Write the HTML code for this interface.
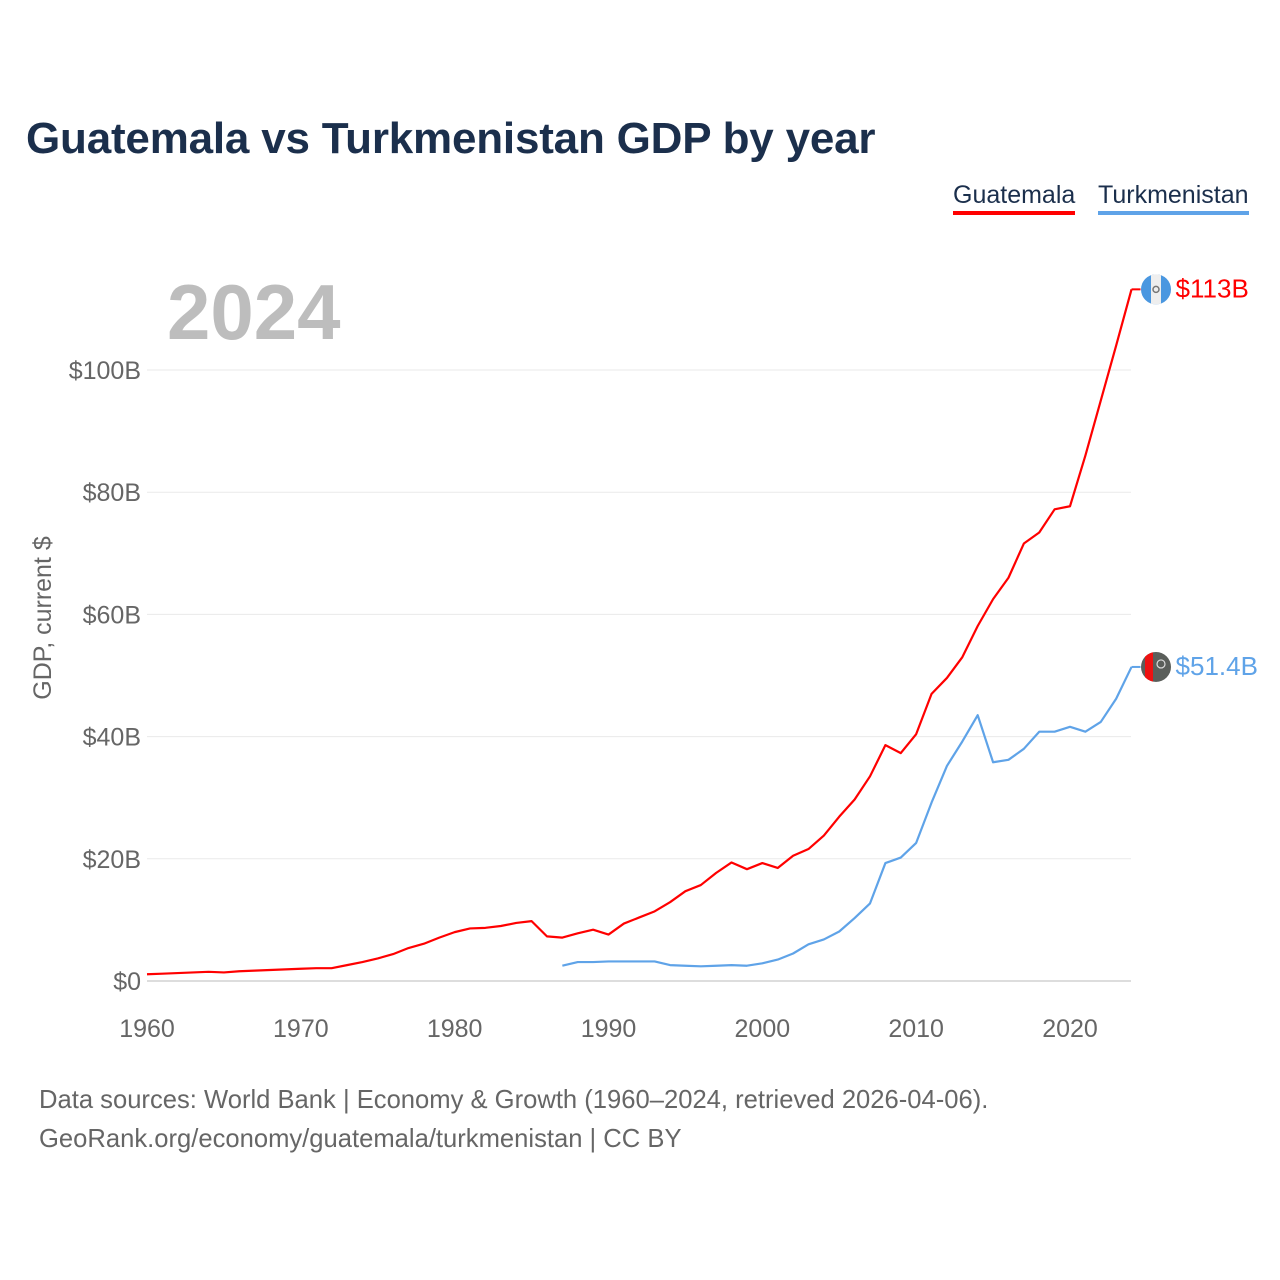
<!DOCTYPE html>
<html><head><meta charset="utf-8"><style>
body{margin:0;background:#fff;font-family:"Liberation Sans",sans-serif;}
#wrap{position:relative;width:1280px;height:1280px;overflow:hidden;}
.t{position:absolute;white-space:nowrap;}
</style></head><body>
<div id="wrap">
<div class="t" style="left:26px;top:114px;font-size:44px;font-weight:bold;color:#1b2f4c;letter-spacing:-0.2px;">Guatemala vs Turkmenistan GDP by year</div>
<div class="t" style="left:953px;top:181px;font-size:25px;color:#1b2f4c;border-bottom:4px solid #ff0000;padding-bottom:1px;">Guatemala</div>
<div class="t" style="left:1098px;top:181px;font-size:25px;color:#1b2f4c;border-bottom:4px solid #5fa3e8;padding-bottom:1px;">Turkmenistan</div>
<svg id="chart" width="1280" height="1280" style="position:absolute;left:0;top:0">
<defs>
<clipPath id="c1"><circle cx="1156" cy="289" r="15"/></clipPath>
<clipPath id="c2"><circle cx="1156" cy="666" r="15"/></clipPath>
</defs>
<text x="167" y="339" font-size="78" font-weight="bold" fill="#bdbdbd" font-family="Liberation Sans, sans-serif">2024</text>
<text transform="translate(51,618) rotate(-90)" text-anchor="middle" font-size="25" fill="#666" font-family="Liberation Sans, sans-serif">GDP, current $</text>
<g id="grid"></g><g id="lines"></g><g id="labels"></g>
</svg>
<div class="t" style="left:39px;top:1081px;font-size:25.6px;color:#666;line-height:39px;">Data sources: World Bank | Economy &amp; Growth (1960–2024, retrieved 2026-04-06).<br>GeoRank.org/economy/guatemala/turkmenistan | CC BY</div>
</div>
<script>
const yTicks=[0,20,40,60,80,100];
const yTickLabels=["$0","$20B","$40B","$60B","$80B","$100B"];
const xTicks=[1960,1970,1980,1990,2000,2010,2020];
const gtmYears=[];for(let y=1960;y<=2024;y++)gtmYears.push(y);
const gtmValues=[1.1,1.2,1.3,1.4,1.5,1.4,1.6,1.7,1.8,1.9,2.0,2.1,2.1,2.6,3.1,3.7,4.4,5.4,6.1,7.1,8.0,8.6,8.7,9.0,9.5,9.8,7.3,7.1,7.8,8.4,7.6,9.4,10.4,11.4,12.9,14.7,15.7,17.7,19.4,18.3,19.3,18.5,20.5,21.6,23.8,26.9,29.7,33.5,38.6,37.3,40.4,47.0,49.6,53.0,58.1,62.5,66.0,71.6,73.4,77.2,77.7,86.0,95.0,104.0,113.2];
const tkmYears=[];for(let y=1987;y<=2024;y++)tkmYears.push(y);
const tkmValues=[2.5,3.1,3.1,3.2,3.2,3.2,3.2,2.6,2.5,2.4,2.5,2.6,2.5,2.9,3.5,4.5,6.0,6.8,8.1,10.3,12.7,19.3,20.2,22.6,29.2,35.2,39.2,43.5,35.8,36.2,38.0,40.8,40.8,41.6,40.8,42.4,46.2,51.4];
const NS="http://www.w3.org/2000/svg";
const X=y=>147+(y-1960)*(1070-147)/60;
const Y=v=>981-v*(981-370)/100;
function mk(tag,attrs,parent){const e=document.createElementNS(NS,tag);for(const k in attrs)e.setAttribute(k,attrs[k]);parent.appendChild(e);return e;}
const grid=document.getElementById('grid'),lines=document.getElementById('lines'),labels=document.getElementById('labels');
yTicks.forEach((v,i)=>{
  const l=mk('line',{x1:147,x2:1131,y1:Y(v),y2:Y(v),stroke:v===0?'#ddd':'#eaeaea','stroke-width':v===0?2:1},grid);
  
  
  const t=mk('text',{x:141,y:Y(v)+9,'text-anchor':'end','font-size':25,fill:'#666','font-family':'Liberation Sans, sans-serif'},grid);
  t.textContent=yTickLabels[i];
  
  
});
xTicks.forEach(y=>{
  const t=mk('text',{x:X(y),y:1037,'text-anchor':'middle','font-size':25,fill:'#666','font-family':'Liberation Sans, sans-serif'},grid);
  t.textContent=y;
  
  
});
function series(years,vals,color,name,label,clip){
  const p=mk('polyline',{points:years.map((y,i)=>X(y)+','+Y(vals[i])).join(' '),fill:'none',stroke:color,'stroke-width':2.2,'stroke-linejoin':'round'},lines);
  
  
  const lx=X(years[years.length-1]),ly=Y(vals[vals.length-1]);
  const s=mk('line',{x1:lx,x2:lx+9,y1:ly,y2:ly,stroke:color,'stroke-width':2},lines);
  
  
  const g=mk('g',{'clip-path':'url(#'+clip+')',transform:'translate(0,'+(ly-(clip==='c1'?289:666))+')'},labels);
  
  
  const cy=clip==='c1'?289:666;
  if(name==='guatemala'){
    mk('rect',{x:1141,y:cy-15,width:30,height:30,fill:'#4a97e0'},g);
    mk('rect',{x:1151,y:cy-15,width:10,height:30,fill:'#eeeeee'},g);
    mk('circle',{cx:1156,cy:cy,r:3,fill:'none',stroke:'#777','stroke-width':1.5},g);
  }else{
    mk('rect',{x:1141,y:cy-15,width:30,height:30,fill:'#5a5e5a'},g);
    mk('rect',{x:1145,y:cy-15,width:8,height:30,fill:'#e11'},g);
    mk('circle',{cx:1161,cy:cy-3,r:4,fill:'none',stroke:'#ddd','stroke-width':1.2},g);
  }
  const t=mk('text',{x:lx+44,y:ly+8,'font-size':26,fill:color,'font-family':'Liberation Sans, sans-serif'},labels);
  t.textContent=label;
  
  
}
series(gtmYears,gtmValues,'#ff0000','guatemala','$113B','c1');
series(tkmYears,tkmValues,'#5fa3e8','turkmenistan','$51.4B','c2');
</script>
</body></html>
